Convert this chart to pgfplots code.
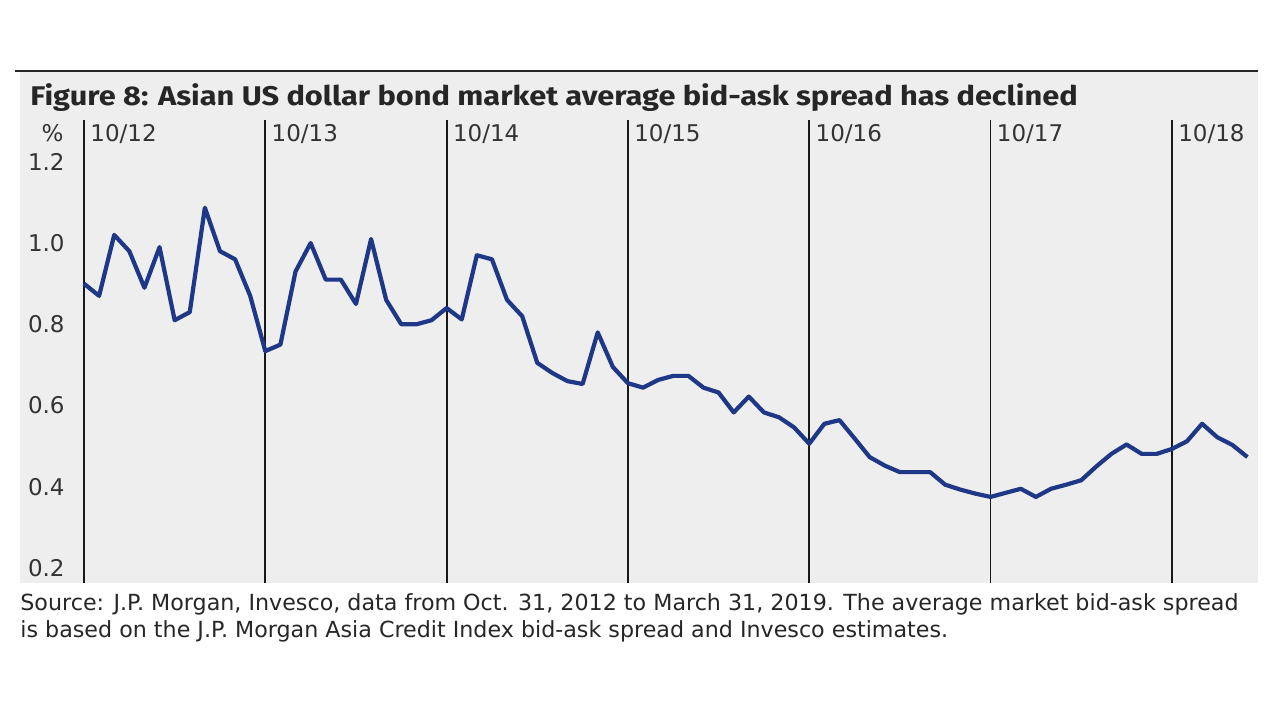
\documentclass[border=0pt]{standalone}
\usepackage{fontspec}
\usepackage{pgfplots}
\pgfplotsset{compat=1.18}
\setmainfont{DejaVu Sans}
\newfontfamily\titlefont[FakeStretch=1.14]{Fira Sans}
\newfontfamily\srcfont{DejaVu Sans}
\definecolor{bg}{RGB}{238,238,238}
\definecolor{sline}{RGB}{30,55,135}
\pgfplotstableread{
m v
0 0.90
1 0.87
2 1.02
3 0.98
4 0.89
5 0.99
6 0.81
7 0.83
8 1.087
9 0.98
10 0.96
11 0.87
12 0.734
13 0.75
14 0.93
15 1.00
16 0.91
17 0.91
18 0.85
19 1.01
20 0.86
21 0.80
22 0.80
23 0.81
24 0.84
25 0.812
26 0.97
27 0.96
28 0.86
29 0.82
30 0.705
31 0.68
32 0.66
33 0.653
34 0.78
35 0.695
36 0.655
37 0.644
38 0.663
39 0.673
40 0.673
41 0.644
42 0.632
43 0.583
44 0.622
45 0.583
46 0.571
47 0.546
48 0.506
49 0.555
50 0.564
51 0.519
52 0.473
53 0.452
54 0.436
55 0.436
56 0.436
57 0.405
58 0.393
59 0.383
60 0.375
61 0.385
62 0.395
63 0.375
64 0.395
65 0.405
66 0.416
67 0.45
68 0.481
69 0.504
70 0.481
71 0.481
72 0.493
73 0.512
74 0.555
75 0.522
76 0.503
77 0.473
}\spread
\begin{document}
\begin{tikzpicture}
\useasboundingbox (0,0) rectangle (640pt,360pt);
\fill[bg] (10pt,68.5pt) rectangle (629pt,324pt);
\draw[line width=1pt, black!85] (7.5pt,324.5pt) -- (629pt,324.5pt);
\node[anchor=base west, inner sep=0pt, font=\titlefont\bfseries\fontsize{13.5}{15}\selectfont, text=black!85] at (15pt,307.5pt) {Figure 8: Asian US dollar bond market average bid-ask spread has declined};
\node[anchor=east, inner sep=0pt, font=\fontsize{11.5}{13}\selectfont, text=black!80] at (32pt,293.5pt) {\%};
\begin{axis}[at={(42pt,68.5pt)}, anchor=south west, scale only axis,
  width=587pt, height=231.5pt,
  xmin=0, xmax=77.7, ymin=0.163, ymax=1.303,
  axis line style={draw=none}, major tick length=0pt,
  xtick={0,12,24,36,48,60,72},
  xticklabels={10/12,10/13,10/14,10/15,10/16,10/17,10/18},
  xticklabel pos=upper,
  xticklabel style={anchor=north west, inner sep=0pt, xshift=3pt, yshift=-2pt},
  ytick={0.2,0.4,0.6,0.8,1.0,1.2},
  yticklabel style={anchor=east, inner sep=0pt, xshift=-9.5pt,
    /pgf/number format/.cd, fixed, fixed zerofill, precision=1},
  /pgf/number format/assume math mode=true,
  tick label style={font=\fontsize{11.5}{13}\selectfont, text=black!80},
  xmajorgrids, grid style={black!90, line width=0.9pt},
  clip=false]
\addplot[sline, line width=2.1pt, line join=round] table[x=m, y=v] {\spread};
\end{axis}
\node[anchor=base west, inner sep=0pt, font=\srcfont\fontsize{11.1}{12}\selectfont, text=black!85] at (10pt,55pt) {Source: J.P. Morgan, Invesco, data from Oct. 31, 2012 to March 31, 2019. The average market bid-ask spread};
\node[anchor=base west, inner sep=0pt, font=\srcfont\fontsize{11.1}{12}\selectfont, text=black!85] at (10pt,41.5pt) {is based on the J.P. Morgan Asia Credit Index bid-ask spread and Invesco estimates.};
\end{tikzpicture}
\end{document}
